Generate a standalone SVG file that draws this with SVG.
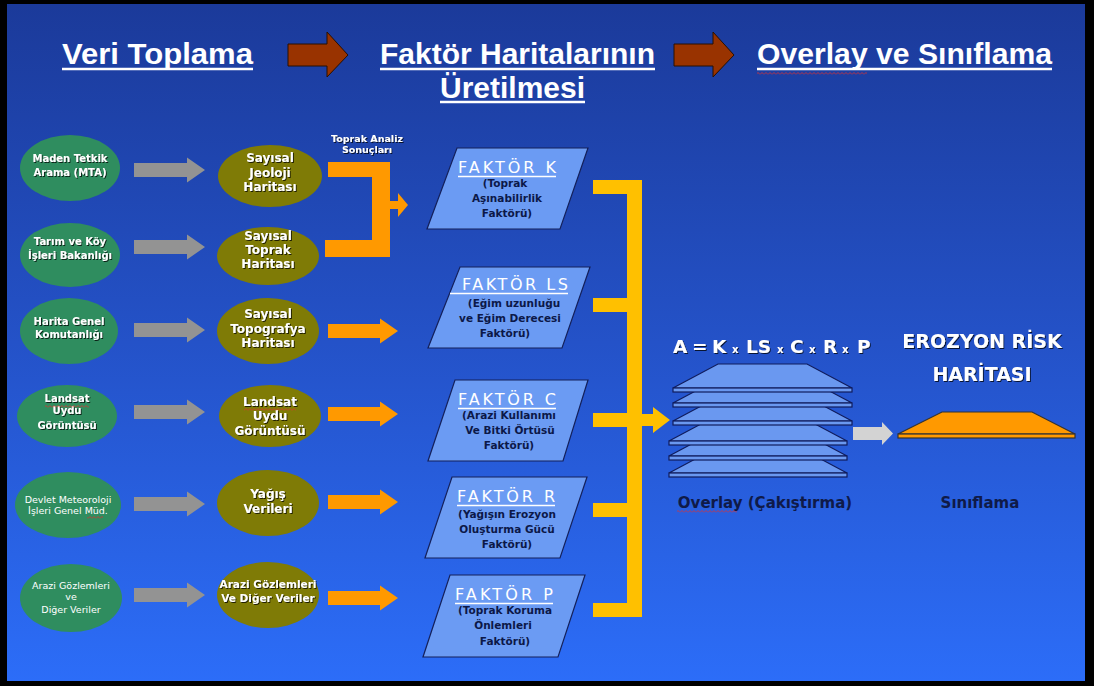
<svg xmlns="http://www.w3.org/2000/svg" width="1094" height="686" viewBox="0 0 1094 686">
<defs>
<linearGradient id="bg" x1="0" y1="0" x2="0" y2="1">
<stop offset="0" stop-color="#1b3a9a"/>
<stop offset="0.5" stop-color="#2452c8"/>
<stop offset="1" stop-color="#2c6df8"/>
</linearGradient>
<filter id="sh" x="-10%" y="-40%" width="125%" height="180%"><feDropShadow dx="1" dy="1" stdDeviation="0.4" flood-color="#000" flood-opacity="0.75"/></filter>
<pattern id="wavy" width="4" height="3" patternUnits="userSpaceOnUse"><path d="M0,2.5 L2,0.5 L4,2.5" fill="none" stroke="#e03030" stroke-width="0.8"/></pattern>
</defs>
<style>
.title{font-family:"Liberation Sans",Arial,sans-serif;font-weight:bold;font-size:30px;fill:#fff}
.uline{stroke:#fff;stroke-width:2.5}
.hline{stroke:#fff;stroke-width:1.5}
.bigarrow{fill:#993300;stroke:#2a1000;stroke-width:1}
.src{fill:#2f8d5f}
.map{fill:#7f7b06}
.st{font-family:"DejaVu Sans",Verdana,sans-serif;font-weight:bold;font-size:10px;fill:#fff;text-anchor:middle;filter:url(#sh)}
.sr{font-family:"DejaVu Sans",Verdana,sans-serif;font-size:9.5px;fill:#fff;text-anchor:middle}
.mt{font-family:"DejaVu Sans",Verdana,sans-serif;font-weight:bold;font-size:12px;fill:#fff;text-anchor:middle;filter:url(#sh)}
.gray{fill:#939393}
.org{fill:#ff9900}
.yel{fill:#ffc000}
.par{fill:#6b9bf3;stroke:#14205a;stroke-width:1.2}
.ph{font-family:"DejaVu Sans",Verdana,sans-serif;font-size:16px;fill:#fff}
.ps{font-family:"DejaVu Sans",Verdana,sans-serif;font-weight:bold;font-size:10.5px;fill:#0c1848;text-anchor:middle}
.lay{fill:#6a98f0;stroke:#101c5c;stroke-width:1.2}
.big{font-family:"DejaVu Sans",Verdana,sans-serif;font-weight:bold;font-size:18.5px;fill:#fff;filter:url(#sh)}
.bt{font-family:"DejaVu Sans",Verdana,sans-serif;font-weight:bold;font-size:15px;fill:#0f1a48;text-anchor:middle}
.wv{fill:url(#wavy)}
</style>
<rect x="0" y="0" width="1094" height="686" fill="#000"/>
<rect x="7" y="4" width="1078" height="677" fill="url(#bg)"/>

<g id="titles">
<text class="title" x="62" y="64" textLength="191" lengthAdjust="spacingAndGlyphs">Veri Toplama</text>
<line class="uline" x1="62" y1="69" x2="253" y2="69"/>
<text class="title" x="380" y="64" textLength="275" lengthAdjust="spacingAndGlyphs">Faktör Haritalarının</text>
<line class="uline" x1="380" y1="69" x2="655" y2="69"/>
<text class="title" x="440" y="98" textLength="145" lengthAdjust="spacingAndGlyphs">Üretilmesi</text>
<line class="uline" x1="440" y1="102" x2="585" y2="102"/>
<text class="title" x="757" y="64" textLength="295" lengthAdjust="spacingAndGlyphs">Overlay ve Sınıflama</text>
<line class="uline" x1="757" y1="69" x2="1052" y2="69"/>
<rect class="wv" x="757" y="72" width="110" height="3"/>
<polygon class="bigarrow" points="288,44 327,44 327,32 348,55 327,77 327,66 288,66"/>
<polygon class="bigarrow" points="674,44 713,44 713,32 734,55 713,77 713,66 674,66"/>
</g>

<g id="connectors">
<polygon class="gray" points="134,163 187,163 187,157.5 205,170 187,182.5 187,177 134,177"/>
<polygon class="gray" points="134,240 187,240 187,234.5 205,247 187,259.5 187,254 134,254"/>
<polygon class="gray" points="134,323 187,323 187,317.5 205,330 187,342.5 187,337 134,337"/>
<polygon class="gray" points="134,405 187,405 187,399.5 205,412 187,424.5 187,419 134,419"/>
<polygon class="gray" points="134,497 187,497 187,491.5 205,504 187,516.5 187,511 134,511"/>
<polygon class="gray" points="134,588 187,588 187,582.5 205,595 187,607.5 187,602 134,602"/>
<rect class="org" x="328" y="162" width="62" height="15"/>
<rect class="org" x="372" y="162" width="18" height="95"/>
<rect class="org" x="325" y="240" width="65" height="17"/>
<polygon class="org" points="389,201 398,201 398,193 408,205 398,217 398,209 389,209"/>
<polygon class="org" points="328,324 380,324 380,318.5 398,331 380,343.5 380,338 328,338"/>
<polygon class="org" points="328,407 380,407 380,401.5 398,414 380,426.5 380,421 328,421"/>
<polygon class="org" points="328,495 380,495 380,489.5 398,502 380,514.5 380,509 328,509"/>
<polygon class="org" points="328,591 380,591 380,585.5 398,598 380,610.5 380,605 328,605"/>
<rect class="yel" x="627" y="180" width="15" height="437"/>
<rect class="yel" x="593" y="180" width="35" height="14"/>
<rect class="yel" x="593" y="298" width="35" height="14"/>
<rect class="yel" x="593" y="413" width="35" height="14"/>
<rect class="yel" x="593" y="503" width="35" height="14"/>
<rect class="yel" x="593" y="603" width="35" height="14"/>
<polygon class="yel" points="641,414 653,414 653,407 670,420 653,433 653,426 641,426"/>
<polygon fill="#d3d3d3" points="853,427 882,427 882,422 893,433.5 882,445 882,440 853,440"/>
</g>

<g id="toprak-analiz">
<text class="st" x="367" y="142" style="font-size:9.5px">Toprak Analiz</text>
<text class="st" x="367" y="153" style="font-size:9.5px">Sonuçları</text>
</g>

<g id="src-mta"><ellipse class="src" cx="70" cy="168" rx="50" ry="33"/>
<text class="st" x="70" y="162">Maden Tetkik</text><text class="st" x="70" y="176">Arama (MTA)</text></g>
<g id="src-tarim"><ellipse class="src" cx="70" cy="255" rx="50" ry="32"/>
<text class="st" x="70" y="245">Tarım ve Köy</text><text class="st" x="70" y="259">İşleri Bakanlığı</text></g>
<g id="src-harita"><ellipse class="src" cx="69" cy="331" rx="49" ry="33"/>
<text class="st" x="69" y="325">Harita Genel</text><text class="st" x="69" y="338">Komutanlığı</text></g>
<g id="src-landsat"><ellipse class="src" cx="67" cy="416" rx="50" ry="31"/>
<text class="st" x="67" y="402">Landsat</text><text class="st" x="67" y="414">Uydu</text><text class="st" x="67" y="429">Görüntüsü</text>
<rect class="wv" x="45" y="405" width="44" height="3"/></g>
<g id="src-meteoroloji"><ellipse class="src" cx="68" cy="505" rx="53" ry="33"/>
<text class="sr" x="68" y="503">Devlet Meteoroloji</text><text class="sr" x="68" y="514">İşleri Genel Müd.</text>
<rect class="wv" x="87" y="516" width="16" height="3"/></g>
<g id="src-arazi"><ellipse class="src" cx="71" cy="598" rx="51" ry="34"/>
<text class="sr" x="71" y="589">Arazi Gözlemleri</text><text class="sr" x="71" y="600">ve</text><text class="sr" x="71" y="613">Diğer Veriler</text></g>

<g id="map-jeoloji"><ellipse class="map" cx="270" cy="176" rx="52" ry="31"/>
<text class="mt" x="270" y="162">Sayısal</text><text class="mt" x="270" y="177">Jeoloji</text><text class="mt" x="270" y="191">Haritası</text></g>
<g id="map-toprak"><ellipse class="map" cx="268" cy="256" rx="51" ry="29"/>
<text class="mt" x="268" y="240">Sayısal</text><text class="mt" x="268" y="254">Toprak</text><text class="mt" x="268" y="268">Haritası</text></g>
<g id="map-topografya"><ellipse class="map" cx="268" cy="331" rx="51" ry="33"/>
<text class="mt" x="268" y="318">Sayısal</text><text class="mt" x="268" y="333">Topografya</text><text class="mt" x="268" y="347">Haritası</text></g>
<g id="map-landsat"><ellipse class="map" cx="270" cy="416" rx="51" ry="31"/>
<text class="mt" x="270" y="406">Landsat</text><text class="mt" x="270" y="420">Uydu</text><text class="mt" x="270" y="435">Görüntüsü</text>
<rect class="wv" x="244" y="408" width="52" height="3"/></g>
<g id="map-yagis"><ellipse class="map" cx="268" cy="503" rx="51" ry="33"/>
<text class="mt" x="268" y="498">Yağış</text><text class="mt" x="268" y="513">Verileri</text></g>
<g id="map-arazi"><ellipse class="map" cx="268" cy="595" rx="51" ry="33"/>
<text class="mt" x="268" y="588" style="font-size:10.5px">Arazi Gözlemleri</text><text class="mt" x="268" y="602" style="font-size:10.5px">Ve Diğer Veriler</text></g>

<g id="faktor-k"><polygon class="par" points="457,148 588,148 560,229 427,229"/>
<text class="ph" x="458" y="173" textLength="98">FAKTÖR K</text><line class="hline" x1="458" y1="176.5" x2="556" y2="176.5"/>
<text class="ps" x="505" y="187">(Toprak</text><text class="ps" x="507" y="202">Aşınabilirlik</text><text class="ps" x="507" y="217">Faktörü)</text></g>
<g id="faktor-ls"><polygon class="par" points="460,267 590,267 562,348 428,348"/>
<text class="ph" x="462" y="290" textLength="106">FAKTÖR LS</text><line class="hline" x1="450" y1="293.5" x2="568" y2="293.5"/>
<text class="ps" x="514" y="307">(Eğim uzunluğu</text><text class="ps" x="510" y="322">ve Eğim Derecesi</text><text class="ps" x="505" y="337">Faktörü)</text></g>
<g id="faktor-c"><polygon class="par" points="455,380 588,380 563,461 428,461"/>
<text class="ph" x="458" y="405" textLength="98">FAKTÖR C</text><line class="hline" x1="458" y1="408.5" x2="556" y2="408.5"/>
<text class="ps" x="509" y="419">(Arazi Kullanımı</text><text class="ps" x="510" y="434">Ve Bitki Örtüsü</text><text class="ps" x="509" y="449">Faktörü)</text></g>
<g id="faktor-r"><polygon class="par" points="452,477 587,477 560,558 425,558"/>
<text class="ph" x="457" y="502" textLength="98">FAKTÖR R</text><line class="hline" x1="457" y1="505.5" x2="555" y2="505.5"/>
<text class="ps" x="507" y="518">(Yağışın Erozyon</text><text class="ps" x="507" y="533">Oluşturma Gücü</text><text class="ps" x="507" y="548">Faktörü)</text></g>
<g id="faktor-p"><polygon class="par" points="450,575 585,575 558,657 423,657"/>
<text class="ph" x="455" y="600" textLength="98">FAKTÖR P</text><line class="hline" x1="455" y1="603.5" x2="553" y2="603.5"/>
<text class="ps" x="505" y="614">(Toprak Koruma</text><text class="ps" x="503" y="629">Önlemleri</text><text class="ps" x="505" y="645">Faktörü)</text></g>

<g id="overlay">
<text class="big" y="353"><tspan x="673">A</tspan><tspan x="692">=</tspan><tspan x="712">K</tspan><tspan x="732" style="font-size:10px">x</tspan><tspan x="746">LS</tspan><tspan x="777" style="font-size:10px">x</tspan><tspan x="790">C</tspan><tspan x="809" style="font-size:10px">x</tspan><tspan x="823">R</tspan><tspan x="842" style="font-size:10px">x</tspan><tspan x="857">P</tspan></text>
<polygon class="lay" points="669,473 714,449 802,449 847,473"/><rect class="lay" x="669" y="473" width="178" height="4"/>
<polygon class="lay" points="669,456 714,432 802,432 847,456"/><rect class="lay" x="669" y="456" width="178" height="4"/>
<polygon class="lay" points="669,441 714,417 802,417 847,441"/><rect class="lay" x="669" y="441" width="178" height="4"/>
<polygon class="lay" points="673,421 718,397 807,397 852,421"/><rect class="lay" x="673" y="421" width="179" height="4"/>
<polygon class="lay" points="673,403 718,379 807,379 852,403"/><rect class="lay" x="673" y="403" width="179" height="4"/>
<polygon class="lay" points="673,388 718,364 807,364 852,388"/><rect class="lay" x="673" y="388" width="179" height="4"/>
<text class="bt" x="765" y="508">Overlay (Çakıştırma)</text>
<rect class="wv" x="677" y="510" width="60" height="3"/>
</g>

<g id="erozyon-risk">
<text class="big" x="982" y="348" style="font-size:19px;text-anchor:middle">EROZYON RİSK</text>
<text class="big" x="982" y="381" style="font-size:19px;text-anchor:middle">HARİTASI</text>
<polygon fill="#ff9900" stroke="#333" stroke-width="1.2" points="898,434 942,412 1032,412 1075,434"/>
<rect fill="#ff9900" stroke="#333" stroke-width="1.2" x="898" y="434" width="177" height="4"/>
<text class="bt" x="980" y="508">Sınıflama</text>
</g>
</svg>
